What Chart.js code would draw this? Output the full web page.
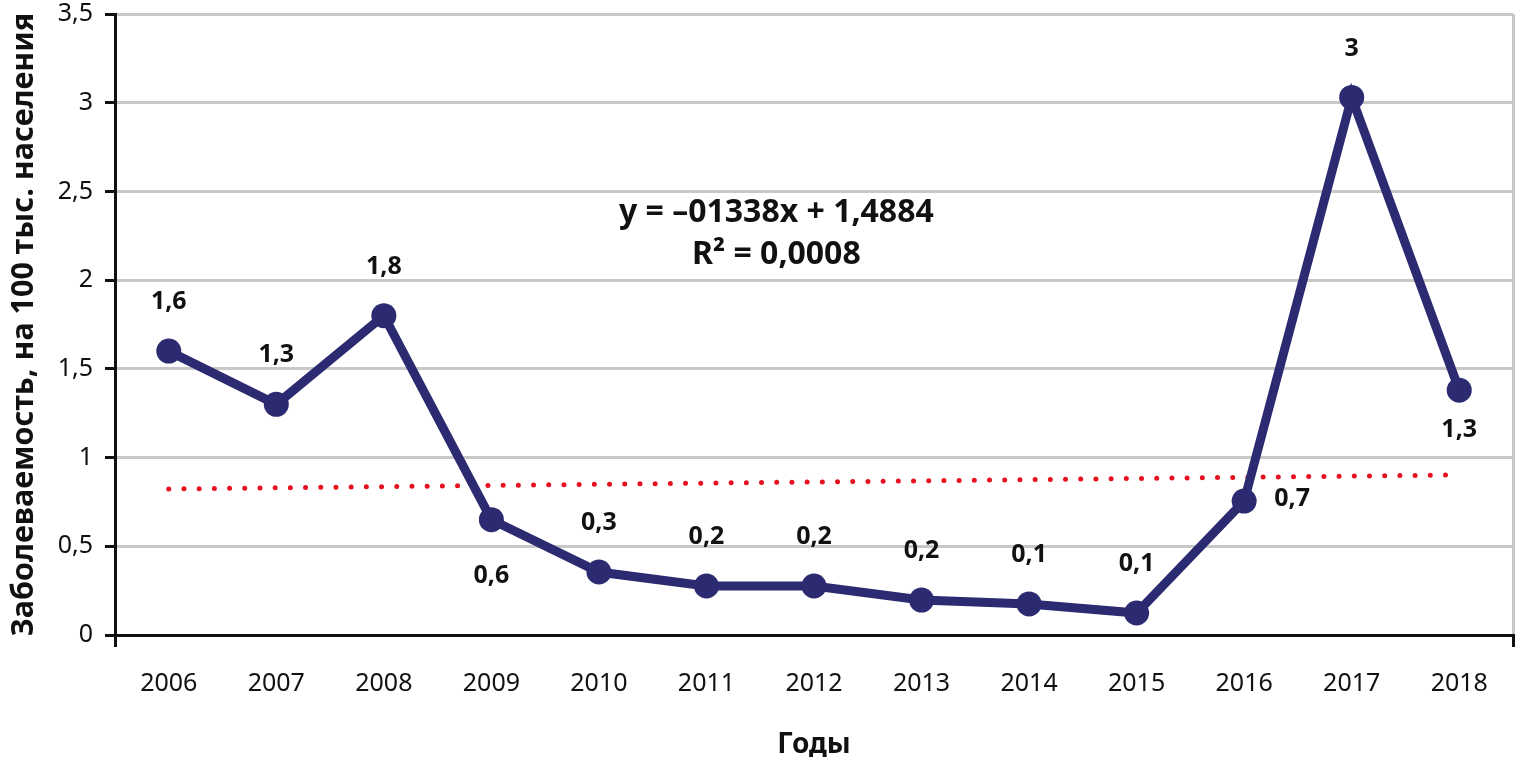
<!DOCTYPE html>
<html>
<head>
<meta charset="utf-8">
<script src="https://cdn.jsdelivr.net/npm/chart.js@4"></script>
<style>
  html, body { margin: 0; padding: 0; background: #fff; }
  #wrap { width: 1525px; height: 774px; }
</style>
</head>
<body>
<div id="wrap"><canvas id="incidenceChart" width="1525" height="774"></canvas></div>
<script>
// values
const years = ['2006', '2007', '2008', '2009', '2010', '2011', '2012', '2013', '2014', '2015', '2016', '2017', '2018'];
const incidence = [1.60, 1.30, 1.80, 0.65, 0.355, 0.276, 0.276, 0.197, 0.175, 0.124, 0.755, 3.03, 1.38];
const pointLabels = ['1,6', '1,3', '1,8', '0,6', '0,3', '0,2', '0,2', '0,2', '0,1', '0,1', '0,7', '3', '1,3'];
const trend = [0.823, null, null, null, null, null, null, null, null, null, null, null, 0.902];
const equationLines = ['y = \u201301338x + 1,4884', 'R\u00B2 = 0,0008'];

// where each label sits relative to its point
const labelSide = ['top', 'top', 'top', 'bottom', 'top', 'top', 'top', 'top', 'top', 'top', 'right', 'top', 'below'];

const FONT = '"Noto Sans", "Open Sans", sans-serif';
const NAVY = '#2c2a70';

const pointLabelPlugin = {
    id: 'pointLabels',
    afterDatasetsDraw(chart) {
        const ctx = chart.ctx;
        const meta = chart.getDatasetMeta(0);
        ctx.save();
        ctx.font = 'bold 25px ' + FONT;
        ctx.fillStyle = '#111';
        ctx.textAlign = 'center';
        ctx.textBaseline = 'middle';
        meta.data.forEach((pt, i) => {
            let x = pt.x, y = pt.y;
            const side = labelSide[i];
            if (side === 'top') y -= 49;
            else if (side === 'bottom') y += 56;
            else if (side === 'below') y += 40;
            else { x += 48; y -= 2; }
            ctx.fillText(pointLabels[i], x, y);
        });

        // trend equation
        ctx.font = 'bold 32px ' + FONT;
        const cx = chart.scales.x.getPixelForValue(5.65);
        ctx.fillText(equationLines[0], cx, chart.scales.y.getPixelForValue(2.38));
        ctx.fillText(equationLines[1], cx, chart.scales.y.getPixelForValue(2.14));
        ctx.restore();
    },
};

new Chart(document.getElementById('incidenceChart'), {
    type: 'line',
    data: {
        labels: years,
        datasets: [
            {
                label: 'Заболеваемость',
                data: incidence,
                borderColor: NAVY,
                backgroundColor: NAVY,
                borderWidth: 9,
                pointRadius: 12.5,
                pointHoverRadius: 12.5,
                pointBackgroundColor: NAVY,
                pointBorderWidth: 0,
                tension: 0,
                order: 1,
            },
            {
                label: 'Тренд',
                data: trend,
                spanGaps: true,
                borderColor: '#e8101e',
                borderWidth: 5,
                borderDash: [0, 15.2],
                borderCapStyle: 'round',
                pointRadius: 0,
                fill: false,
                order: 2,
            },
        ],
    },
    options: {
        responsive: false,
        animation: false,
        layout: { autoPadding: false, padding: { top: 14, right: 12, left: 0, bottom: 0 } },
        plugins: {
            legend: { display: false },
            tooltip: { enabled: false },
        },
        scales: {
            x: {
                offset: true,
                afterFit: (s) => { s.height = 139; s.paddingLeft = 0; s.paddingRight = 0; },
                border: { display: true, color: '#111', width: 3 },
                grid: {
                    offset: true,
                    drawOnChartArea: true,
                    lineWidth: 3,
                    color: (c) => (c.type === 'scale' ? '#c8c8c8' : 'transparent'),
                    tickColor: (c) => (c.index === 0 || c.type === 'scale' ? '#111' : 'transparent'),
                    tickLength: 12,
                },
                ticks: {
                    color: '#111',
                    font: { family: FONT, size: 25 },
                    padding: 22,
                },
                title: {
                    display: true,
                    text: 'Годы',
                    color: '#111',
                    font: { family: FONT, size: 28, weight: 'bold' },
                    padding: { top: 0, bottom: 12 },
                },
            },
            y: {
                min: 0,
                max: 3.5,
                afterFit: (s) => { s.width = 115; s.paddingTop = 0; s.paddingBottom = 0; },
                border: { display: true, color: '#111', width: 3 },
                grid: {
                    color: '#c8c8c8',
                    lineWidth: 3,
                    tickColor: '#111',
                    tickLength: 10,
                },
                ticks: {
                    stepSize: 0.5,
                    color: '#111',
                    font: { family: FONT, size: 25 },
                    padding: 12,
                    callback: (v) => String(v).replace('.', ','),
                },
                title: {
                    display: true,
                    text: 'Заболеваемость, на 100 тыс. населения',
                    color: '#111',
                    font: { family: FONT, size: 30.5, weight: 'bold' },
                    padding: { top: 6, bottom: 0 },
                },
            },
        },
    },
    plugins: [pointLabelPlugin],
});
</script>
</body>
</html>
